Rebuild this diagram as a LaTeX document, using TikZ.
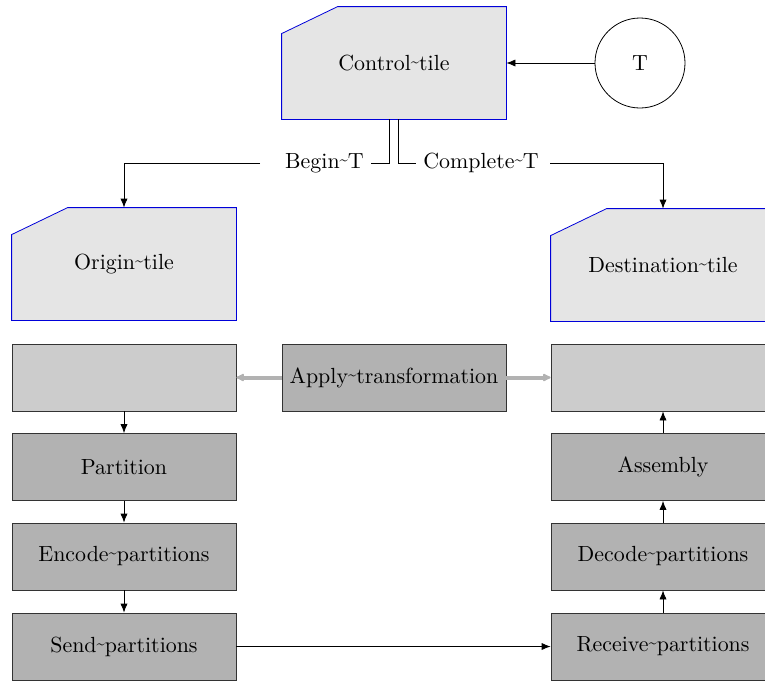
\documentclass[tikz,border=0pt]{standalone}
\usetikzlibrary{arrows.meta,backgrounds}
% raised narrow tilde used as a word joiner in the labels
\newcommand\tj{\raisebox{0.32ex}{\scalebox{0.68}[0.85]{\textasciitilde}}}
\begin{document}
\begin{tikzpicture}[x=0.5pt,y=-0.5pt,
  line width=0.4pt,
  every node/.style={font=\fontsize{10.95}{13.6}\selectfont},
  arr/.style={-{Latex[length=4.5pt,width=3.6pt]}},
  grayarr/.style={-{Latex[length=5pt,width=4.6pt,round]}, line width=2pt, draw=gray!60},
  tilebox/.style={minimum width=112pt, minimum height=56pt, inner sep=0pt},
  tileline/.style={draw=blue!85!black, fill=gray!20, line width=0.4pt},
  proc/.style={draw=black!80, fill=gray!60, minimum width=112pt, minimum height=33.5pt, inner sep=0pt},
  slot/.style={proc, fill=gray!40},
  lbl/.style={inner sep=0pt}
]
\useasboundingbox (0,0) rectangle (765,681);

% tiles (outline drawn behind the text)
\node[tilebox] (ctrl) at (394,63) {Control\tj tile};
\node[tilebox] (origin) at (124,264) {Origin\tj tile};
\node[tilebox] (dest) at (663,265) {Destination\tj tile};
\newcommand\tileoutline[1]{%
  \path[tileline] (#1.south west) -- (#1.south east) -- (#1.north east)
    -- ([xshift=28pt]#1.north west) -- ([yshift=-13.5pt]#1.north west) -- cycle;}
\begin{pgfonlayer}{background}
  \tileoutline{ctrl}
  \tileoutline{origin}
  \tileoutline{dest}
\end{pgfonlayer}

% timer
\node[draw, circle, minimum size=45pt, inner sep=0pt] (T) at (640,63) {T};
\draw[arr] (T) -- (ctrl.east);

% begin / complete signals
\node[lbl] (begin) at (324.5,163) {Begin\tj T};
\node[lbl] (complete) at (481,163) {Complete\tj T};
\coordinate (bR) at (371,163);
\coordinate (bL) at (260,163);
\coordinate (cL) at (416,163);
\coordinate (cR) at (550,163);
\draw ([xshift=-2.25pt]ctrl.south) |- (bR);
\draw[arr] (bL) -| (origin.north);
\draw ([xshift=2.25pt]ctrl.south) |- (cL);
\draw[arr] (cR) -| (dest.north);

% transformation row
\node[slot] (lslot) at (124,377.5) {};
\node[proc] (apply) at (394,377.5) {Apply\tj transformation};
\node[slot] (rslot) at (663,377.5) {};
\draw[grayarr] (apply.west) -- (lslot.east);
\draw[grayarr] (apply.east) -- (rslot.west);

% sending side
\node[proc] (part) at (124,467) {Partition};
\node[proc] (enc) at (124,556.5) {Encode\tj partitions};
\node[proc] (send) at (124,646.5) {Send\tj partitions};
\draw[arr] (lslot) -- (part);
\draw[arr] (part) -- (enc);
\draw[arr] (enc) -- (send);

% receiving side
\node[proc] (asm) at (663,467) {Assembly};
\node[proc] (dec) at (663,556.5) {Decode\tj partitions};
\node[proc] (recv) at (663,646.5) {Receive\tj partitions};
\draw[arr] (recv) -- (dec);
\draw[arr] (dec) -- (asm);
\draw[arr] (asm) -- (rslot);

\draw[arr] (send) -- (recv);
\end{tikzpicture}
\end{document}
